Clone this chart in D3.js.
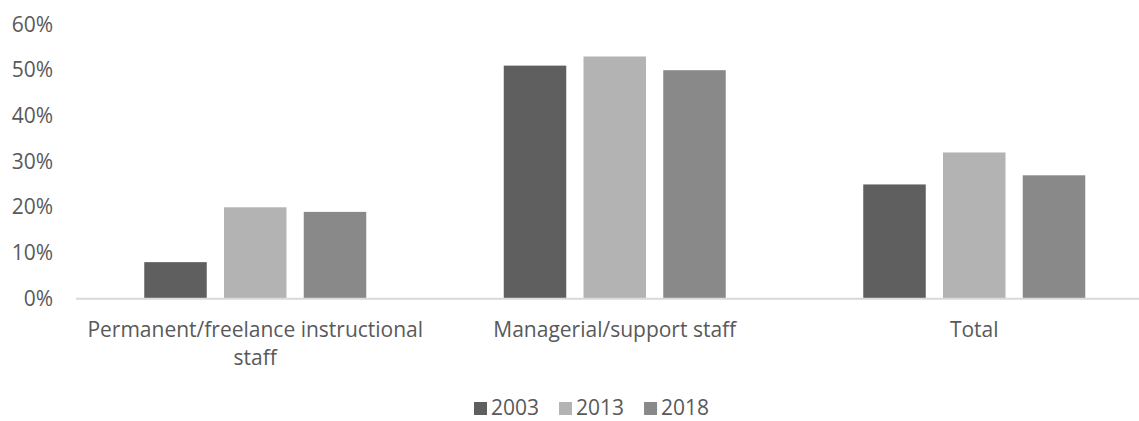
<!DOCTYPE html>
<html>
<head>
<meta charset="utf-8">
<script src="https://cdn.jsdelivr.net/npm/d3@7"></script>
<style>
  html, body { margin: 0; padding: 0; background: #fff; }
  svg { display: block; }
  text { font-family: "Open Sans", "Liberation Sans", sans-serif; fill: #595959; }
</style>
</head>
<body>
<svg id="chart" width="1139" height="421"></svg>
<script>
// Share of staff by category and survey year
const categories = ["Permanent/freelance instructional staff", "Managerial/support staff", "Total"];
const years = ["2003", "2013", "2018"];
const values2003 = [0.08, 0.51, 0.25];
const values2013 = [0.20, 0.53, 0.32];
const values2018 = [0.19, 0.50, 0.27];
const yTicks = [0, 0.1, 0.2, 0.3, 0.4, 0.5, 0.6];
const seriesColors = ["#5f5f5f", "#b3b3b3", "#898989"];

const series = [values2003, values2013, values2018];

const svg = d3.select("#chart");
const fontSize = 21;

// Scales
const x0 = d3.scaleBand().domain(categories).range([75.5, 1154]).paddingInner(0).paddingOuter(0);
const groupWidth = 222;
const groupOffset = (x0.bandwidth() - groupWidth) / 2;
const x1 = d3.scaleBand().domain(years).range([groupOffset, groupOffset + groupWidth])
  .paddingInner(0.2163).paddingOuter(0);
const y = d3.scaleLinear().domain([0, 0.6]).range([298.7, 24.5]);
const color = d3.scaleOrdinal().domain(years).range(seriesColors);

// Bars
const groups = svg.append("g").selectAll("g")
  .data(categories)
  .join("g")
  .attr("transform", d => `translate(${x0(d)},0)`);

groups.selectAll("rect")
  .data((c, i) => years.map((yr, j) => ({ year: yr, value: series[j][i] })))
  .join("rect")
  .attr("x", d => x1(d.year))
  .attr("width", x1.bandwidth())
  .attr("y", d => y(d.value))
  .attr("height", d => y(0) - y(d.value))
  .attr("fill", d => color(d.year));

// Y axis (labels only)
const yAxis = d3.axisLeft(y).tickValues(yTicks).tickFormat(d3.format(".0%")).tickSize(0).tickPadding(0);
const yG = svg.append("g").attr("transform", "translate(53,0)").call(yAxis);
yG.select(".domain").remove();
yG.selectAll("text")
  .attr("font-family", null)
  .style("font-size", fontSize + "px")
  .attr("fill", "#595959")
  .attr("dy", "0.31em");

// X axis baseline
svg.append("line")
  .attr("x1", 76).attr("x2", 1139)
  .attr("y1", y(0)).attr("y2", y(0))
  .attr("stroke", "#d9d9d9").attr("stroke-width", 2);

// Category labels with wrapping
const labelG = svg.append("g");
categories.forEach(c => {
  const cx = x0(c) + x0.bandwidth() / 2;
  const t = labelG.append("text")
    .attr("text-anchor", "middle")
    .style("font-size", fontSize + "px")
    .attr("x", cx).attr("y", 337);
  const words = c.split(" ");
  let line = [];
  let lineNo = 0;
  let tspan = t.append("tspan").attr("x", cx).attr("y", 337);
  words.forEach(w => {
    line.push(w);
    tspan.text(line.join(" "));
    if (tspan.node().getComputedTextLength() > x0.bandwidth() - 10 && line.length > 1) {
      line.pop();
      tspan.text(line.join(" "));
      line = [w];
      lineNo++;
      tspan = t.append("tspan").attr("x", cx).attr("y", 337 + lineNo * 28).text(w);
    }
  });
});

// Legend
const legend = svg.append("g");
let lx = 474;
years.forEach(yr => {
  legend.append("rect")
    .attr("x", lx).attr("y", 402)
    .attr("width", 13).attr("height", 13)
    .attr("fill", color(yr));
  const t = legend.append("text")
    .attr("x", lx + 17).attr("y", 415)
    .style("font-size", fontSize + "px")
    .text(yr);
  lx += 17 + t.node().getComputedTextLength() + 20;
});
</script>
</body>
</html>
